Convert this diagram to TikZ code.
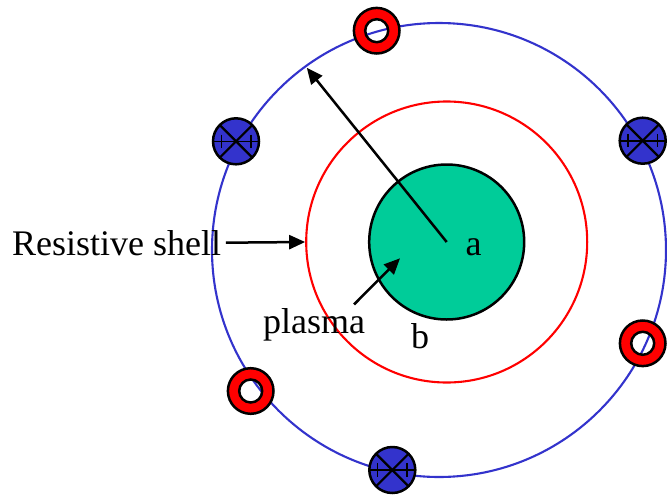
\documentclass[tikz,border=0pt]{standalone}
\usepackage{fontspec}
\setmainfont{Liberation Serif}
\usetikzlibrary{arrows.meta,calc}
\definecolor{wallblue}{RGB}{51,51,204}
\definecolor{markblue}{RGB}{51,51,204}
\definecolor{plasmagreen}{RGB}{0,204,153}
\definecolor{shellred}{RGB}{255,0,0}
\tikzset{
  lbl/.style={inner sep=0pt, anchor=base west, font=\fontsize{36}{40}\selectfont},
  arr/.style={line width=2.5pt, -{Triangle[length=16pt,width=14pt]}},
  ringmark/.pic={
    \path[fill=shellred, even odd rule] (0,0) circle[radius=22.8] (0,0) circle[radius=11.5];
    \draw[line width=2.5pt] (0,0) circle[radius=22.8] (0,0) circle[radius=11.5];
  },
  crossmark/.pic={
    \draw[line width=2.5pt, fill=markblue] (0,0) circle[radius=23];
    \draw[line width=2.2pt] (-16.3,-16.3) -- (16.3,16.3) (-16.3,16.3) -- (16.3,-16.3);
    \draw[line width=1.6pt] (-23,0) -- (23,0)
      (-14.7,-6.7) -- (-14.7,6.7) (14.7,-6.7) -- (14.7,6.7);
  }
}
\begin{document}
\begin{tikzpicture}[x=1pt,y=-1pt]
\useasboundingbox (0,0) rectangle (667,496);
% circles
\node[circle, draw=wallblue, line width=2.1pt, minimum size=454pt, inner sep=0pt] (wall) at (439,250) {};
\node[circle, draw=shellred, line width=2.1pt, minimum size=281pt, inner sep=0pt] (shell) at (446.7,242) {};
\node[circle, draw=black, fill=plasmagreen, line width=2.5pt, minimum size=155pt, inner sep=0pt] (plasma) at (446.7,242) {};
\coordinate (c) at (446.7,242);
% labels
\node[lbl] (res) at (12,255) {Resistive shell};
\node[lbl] (plab) at (263,333) {plasma};
\node[lbl] (la) at (465.5,255) {a};
\node[lbl] (lb) at (411,348.3) {b};
\coordinate (ptip) at (400,258.3);
% arrows
\draw[arr, shorten >=3pt] (c) -- (wall.126.6);
\draw[arr] ($(res.east)+(4.5,0)$) -- (shell.west);
\draw[arr] ($(plab.north east)+(-11.3,-3.4)$) -- (ptip);
% markers
\pic at (376.7,30.7) {ringmark};
\pic at (236,141.3) {crossmark};
\pic at (642.7,140.7) {crossmark};
\pic at (642.7,343.3) {ringmark};
\pic at (250.7,391) {ringmark};
\pic at (392.3,470) {crossmark};
\end{tikzpicture}
\end{document}
